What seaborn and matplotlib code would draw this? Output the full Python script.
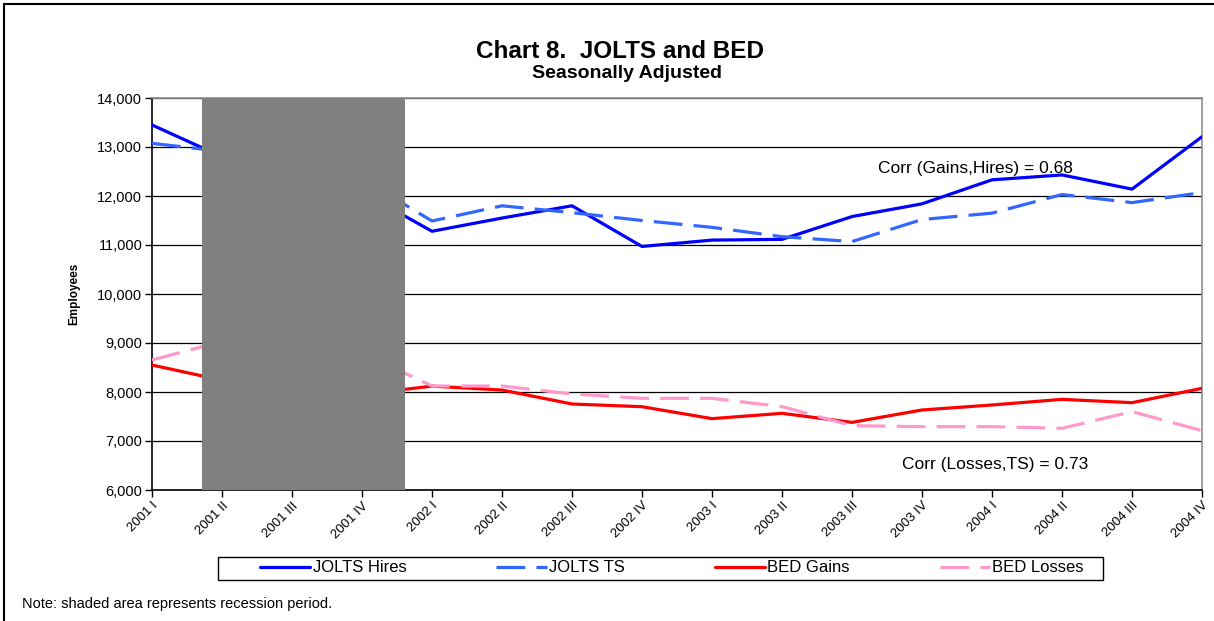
import matplotlib
matplotlib.use("Agg")
import matplotlib.pyplot as plt
import seaborn as sns
import numpy as np
import pandas as pd
from matplotlib.lines import Line2D
from matplotlib.patches import Rectangle

quarters = ["2001 I", "2001 II", "2001 III", "2001 IV",
            "2002 I", "2002 II", "2002 III", "2002 IV",
            "2003 I", "2003 II", "2003 III", "2003 IV",
            "2004 I", "2004 II", "2004 III", "2004 IV"]
jolts_hires = [13450, 12800, 12450, 12080, 11280, 11550, 11800, 10970,
               11100, 11115, 11580, 11840, 12330, 12430, 12140, 13210]
jolts_ts = [13075, 12910, 12600, 12350, 11490, 11800, 11660, 11500,
            11360, 11170, 11070, 11520, 11650, 12030, 11865, 12070]
bed_gains = [8550, 8240, 8100, 7950, 8120, 8040, 7755, 7700,
             7456, 7565, 7380, 7633, 7735, 7850, 7782, 8075]
bed_losses = [8653, 9030, 8950, 8800, 8122, 8122, 7960, 7871,
              7871, 7701, 7313, 7293, 7293, 7259, 7600, 7211]
series_names = ["JOLTS Hires", "JOLTS TS", "BED Gains", "BED Losses"]
recession = (0.72, 3.61)

sns.set_style("white")
plt.rcParams['font.family'] = ['Liberation Sans', 'DejaVu Sans']
plt.rcParams['text.color'] = 'black'
plt.rcParams['xtick.color'] = 'black'
plt.rcParams['ytick.color'] = 'black'
plt.rcParams['axes.labelcolor'] = 'black'

fig = plt.figure(figsize=(12.14, 6.21), dpi=100)
ax = fig.add_axes([152/1214, 1-490/621, 1050/1214, 392/621])

x = np.arange(len(quarters))
df = pd.DataFrame({
    "x": np.tile(x, 4),
    "value": jolts_hires + jolts_ts + bed_gains + bed_losses,
    "series": np.repeat(series_names, len(quarters)),
})
palette = {"JOLTS Hires": "#0000FF", "JOLTS TS": "#3366FF",
           "BED Gains": "#FF0000", "BED Losses": "#FF99CC"}
dashes = {"JOLTS Hires": "", "JOLTS TS": (9, 3.5),
          "BED Gains": "", "BED Losses": (9, 3.5)}
sns.lineplot(data=df, x="x", y="value", hue="series", style="series",
             palette=palette, dashes=dashes, linewidth=2.3, ax=ax,
             legend=False, zorder=3)

ax.axvspan(recession[0], recession[1], color="#808080", zorder=4, lw=0)

ax.set_xlim(0, len(quarters) - 1)
ax.set_ylim(6000, 14000)
ax.set_yticks(np.arange(6000, 14001, 1000))
ax.set_yticklabels([f"{v:,}" for v in range(6000, 14001, 1000)], fontsize=10.5)
ax.set_xticks(x)
ax.set_xticklabels(quarters, rotation=45, ha="right", va="top",
                   rotation_mode="anchor", fontsize=9.5)
ax.grid(axis="y", color="black", lw=0.9, zorder=1)
ax.set_axisbelow(True)
ax.tick_params(axis="both", direction="out", length=5, width=1,
               color="black", bottom=True, left=True, pad=2)
ax.set_xlabel("")
ax.set_ylabel("Employees", fontsize=8.5, fontweight="bold", labelpad=12)
for s in ["left", "bottom"]:
    ax.spines[s].set_color("black")
    ax.spines[s].set_linewidth(1.2)
for s in ["top", "right"]:
    ax.spines[s].set_color("#909090")
    ax.spines[s].set_linewidth(1.2)

ax.text((975-152)/70, 12560, "Corr (Gains,Hires) = 0.68",
        ha="center", va="center", fontsize=12.5, zorder=5)
ax.text((995-152)/70, 6520, "Corr (Losses,TS) = 0.73",
        ha="center", va="center", fontsize=12.5, zorder=5)

fig.text(620/1214, 1-51/621, "Chart 8.  JOLTS and BED", ha="center",
         va="center", fontsize=17.5, fontweight="bold")
fig.text(627/1214, 1-74/621, "Seasonally Adjusted", ha="center",
         va="center", fontsize=14, fontweight="bold")
fig.text(22/1214, 1-604/621, "Note: shaded area represents recession period.",
         ha="left", va="center", fontsize=10.5)

handles = []
for n in series_names:
    if dashes[n]:
        handles.append(Line2D([], [], color=palette[n], lw=2.3, linestyle=(0, dashes[n])))
    else:
        handles.append(Line2D([], [], color=palette[n], lw=2.3))
leg = fig.legend(handles, series_names, loc="center",
                 bbox_to_anchor=(672/1214, 1-568/621),
                 ncol=4, frameon=False, fontsize=12, handlelength=3.0,
                 handletextpad=0.15, columnspacing=5.4,
                 borderpad=0.2, borderaxespad=0)
fig.add_artist(Rectangle((218/1214, 1-580/621), 885/1214, 23/621,
                         transform=fig.transFigure, fill=False,
                         edgecolor="black", lw=1.0))

fig.add_artist(Line2D([4/1214, 4/1214], [0, 1-4/621], color="black", lw=1.5,
                      transform=fig.transFigure))
fig.add_artist(Line2D([4/1214, 1], [1-4/621, 1-4/621], color="black", lw=1.5,
                      transform=fig.transFigure))

fig.savefig("out.png", dpi=100)
